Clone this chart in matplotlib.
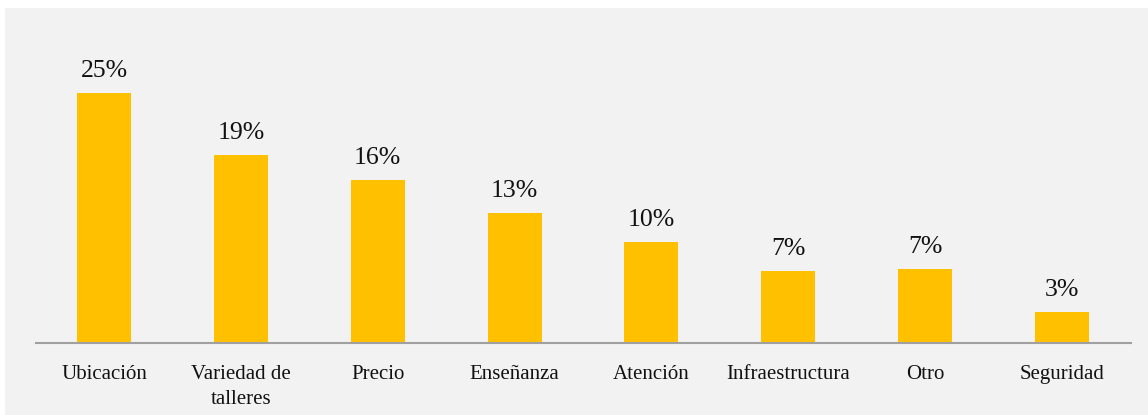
import matplotlib
matplotlib.use("Agg")
import matplotlib.pyplot as plt
from matplotlib.patches import Rectangle

# Motivos de eleccion (porcentaje de respuestas)
categorias = ["Ubicación", "Variedad de\ntalleres", "Precio", "Enseñanza",
              "Atención", "Infraestructura", "Otro", "Seguridad"]
porcentajes = [25.0, 18.8, 16.3, 13.0, 10.1, 7.2, 7.4, 3.1]

plt.rcParams["font.family"] = ["Liberation Serif", "DejaVu Serif"]

fig = plt.figure(figsize=(11.48, 4.15), dpi=100)
fig.patch.set_facecolor("white")
# gray panel behind the chart
fig.patches.append(Rectangle((5 / 1148, 0), 1 - 5 / 1148, 1 - 8 / 415,
                             transform=fig.transFigure, facecolor="#f2f2f2",
                             edgecolor="none", zorder=-10))

ax = fig.add_axes([35.5 / 1148, 72 / 415, 1095 / 1148, 335 / 415])
ax.set_facecolor("none")

x = range(len(categorias))
bars = ax.bar(x, porcentajes, width=0.395, color="#ffc000", zorder=2)

for b, v in zip(bars, porcentajes):
    ax.annotate(f"{v:.0f}%", (b.get_x() + b.get_width() / 2, v),
                xytext=(0, 11), textcoords="offset pixels",
                ha="center", va="bottom", fontsize=18.5, color="#111111")

ax.set_xlim(-0.5, len(categorias) - 0.5)
ax.set_ylim(0, 33.5)
ax.set_xticks(list(x))
ax.set_xticklabels(categorias, fontsize=15, color="#111111", linespacing=1.4)
ax.tick_params(axis="x", length=0, pad=16)
ax.set_yticks([])
for s in ["top", "left", "right"]:
    ax.spines[s].set_visible(False)
ax.spines["bottom"].set_color("#a0a0a0")
ax.spines["bottom"].set_linewidth(1.5)

fig.savefig("out.png", dpi=100, facecolor=fig.get_facecolor())
